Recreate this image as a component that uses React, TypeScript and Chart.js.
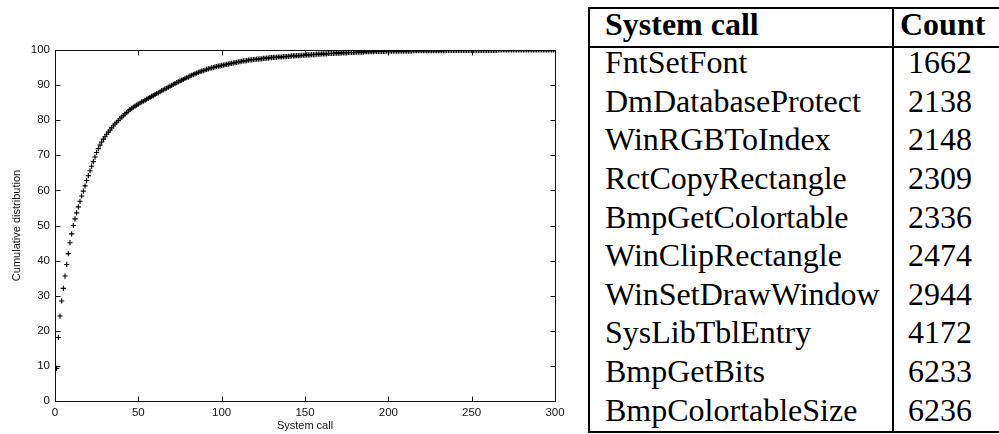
import { useEffect, useRef } from "react";
import { Chart, registerables } from "chart.js";

Chart.register(...registerables);

// Cumulative distribution (%) for system calls ranked 1..300
const cumulative: number[] = [
  9.3, 18.1, 24.2, 28.5, 32.1, 35.6, 38.9, 42.0, 45.1, 47.6,
  50.0, 51.9, 53.6, 55.3, 56.9, 58.4, 59.8, 61.3, 62.8, 64.2,
  65.6, 66.9, 68.2, 69.5, 70.8, 71.9, 72.9, 73.8, 74.6, 75.3,
  76.0, 76.6, 77.2, 77.8, 78.4, 78.9, 79.4, 79.9, 80.4, 80.9,
  81.3, 81.8, 82.2, 82.6, 83.0, 83.4, 83.7, 84.0, 84.3, 84.6,
  84.9, 85.2, 85.4, 85.7, 86.0, 86.2, 86.5, 86.8, 87.0, 87.3,
  87.6, 87.8, 88.1, 88.4, 88.6, 88.9, 89.1, 89.4, 89.7, 89.9,
  90.2, 90.4, 90.7, 90.9, 91.2, 91.4, 91.6, 91.9, 92.1, 92.3,
  92.6, 92.8, 93.0, 93.2, 93.4, 93.6, 93.8, 94.0, 94.1, 94.3,
  94.5, 94.6, 94.8, 94.9, 95.0, 95.2, 95.3, 95.4, 95.5, 95.6,
  95.7, 95.8, 95.9, 96.0, 96.1, 96.2, 96.3, 96.4, 96.5, 96.6,
  96.7, 96.8, 96.9, 96.9, 97.0, 97.1, 97.2, 97.2, 97.3, 97.3,
  97.4, 97.4, 97.5, 97.5, 97.6, 97.6, 97.7, 97.7, 97.8, 97.8,
  97.9, 97.9, 97.9, 98.0, 98.0, 98.0, 98.1, 98.1, 98.1, 98.2,
  98.2, 98.3, 98.3, 98.3, 98.4, 98.4, 98.4, 98.5, 98.5, 98.5,
  98.6, 98.6, 98.6, 98.7, 98.7, 98.7, 98.8, 98.8, 98.8, 98.9,
  98.9, 98.9, 98.9, 99.0, 99.0, 99.0, 99.0, 99.1, 99.1, 99.1,
  99.1, 99.2, 99.2, 99.2, 99.2, 99.3, 99.3, 99.3, 99.3, 99.3,
  99.4, 99.4, 99.4, 99.4, 99.4, 99.5, 99.5, 99.5, 99.5, 99.5,
  99.5, 99.6, 99.6, 99.6, 99.6, 99.6, 99.6, 99.6, 99.7, 99.7,
  99.7, 99.7, 99.7, 99.7, 99.7, 99.7, 99.7, 99.7, 99.7, 99.7,
  99.7, 99.7, 99.7, 99.7, 99.8, 99.8, 99.8, 99.8, 99.8, 99.8,
  99.8, 99.8, 99.8, 99.8, 99.8, 99.8, 99.8, 99.8, 99.8, 99.8,
  99.8, 99.8, 99.8, 99.8, 99.9, 99.9, 99.9, 99.9, 99.9, 99.9,
  99.9, 99.9, 99.9, 99.9, 99.9, 99.9, 99.9, 99.9, 99.9, 99.9,
  99.9, 99.9, 99.9, 99.9, 99.9, 99.9, 99.9, 99.9, 99.9, 99.9,
  99.9, 99.9, 99.9, 99.9, 99.9, 100, 100, 100, 100, 100,
  100, 100, 100, 100, 100, 100, 100, 100, 100, 100,
  100, 100, 100, 100, 100, 100, 100, 100, 100, 100,
  100, 100, 100, 100, 100, 100, 100, 100, 100, 100,
];

const xTitle = "System call";
const yTitle = "Cumulative distribution";

const tableHeaders = ["System call", "Count"];
const systemCalls = [
  "FntSetFont",
  "DmDatabaseProtect",
  "WinRGBToIndex",
  "RctCopyRectangle",
  "BmpGetColortable",
  "WinClipRectangle",
  "WinSetDrawWindow",
  "SysLibTblEntry",
  "BmpGetBits",
  "BmpColortableSize",
];
const callCounts = [1662, 2138, 2148, 2309, 2336, 2474, 2944, 4172, 6233, 6236];

const frameTicks = {
  id: "frameTicks",
  beforeDatasetsDraw(chart: any) {
    const { ctx, chartArea: a, scales } = chart;
    const L = Math.round(a.left) + 0.5;
    const R = Math.round(a.right) + 0.5;
    const T = Math.round(a.top) + 0.5;
    const B = Math.round(a.bottom) + 0.5;
    const len = 5;
    ctx.save();
    ctx.strokeStyle = "#111";
    ctx.lineWidth = 1;
    ctx.beginPath();
    ctx.rect(L, T, R - L, B - T);
    scales.x.ticks.forEach((t: any) => {
      const px = Math.round(scales.x.getPixelForValue(t.value)) + 0.5;
      ctx.moveTo(px, B);
      ctx.lineTo(px, B - len);
      ctx.moveTo(px, T);
      ctx.lineTo(px, T + len);
    });
    scales.y.ticks.forEach((t: any) => {
      const py = Math.round(scales.y.getPixelForValue(t.value)) + 0.5;
      ctx.moveTo(L, py);
      ctx.lineTo(L + len, py);
      ctx.moveTo(R, py);
      ctx.lineTo(R - len, py);
    });
    ctx.stroke();
    ctx.restore();
  },
};

function CdfChart() {
  const ref = useRef<HTMLCanvasElement | null>(null);
  useEffect(() => {
    if (!ref.current) return;
    const family = "'Liberation Sans', Arial, sans-serif";
    const titleFont = { family, size: 11 };
    const tickFont = { family, size: 11.5 };
    const chart = new Chart(ref.current, {
      type: "scatter",
      data: {
        datasets: [
          {
            data: cumulative.map((v, i) => ({ x: i + 1, y: v })),
            pointStyle: "cross",
            pointRadius: 2.6,
            pointBorderWidth: 1.1,
            borderColor: "#000",
            backgroundColor: "#000",
            showLine: false,
          },
        ],
      },
      options: {
        responsive: false,
        animation: false,
        layout: { padding: { top: 50, right: 25, left: 0, bottom: 0 } },
        plugins: { legend: { display: false }, tooltip: { enabled: false } },
        events: [],
        scales: {
          x: {
            type: "linear",
            min: 0,
            max: 300,
            grid: { display: false, drawTicks: false },
            border: { display: false },
            ticks: { stepSize: 50, autoSkip: false, maxRotation: 0, padding: 5, color: "#111", font: tickFont },
            title: { display: true, text: xTitle, color: "#111", font: titleFont, padding: { top: 0, bottom: 1.4 } },
            afterFit: (s: any) => {
              s.height = 33;
            },
          },
          y: {
            type: "linear",
            min: 0,
            max: 100,
            grid: { display: false, drawTicks: false },
            border: { display: false },
            ticks: { stepSize: 10, autoSkip: false, padding: 5, color: "#111", font: tickFont },
            title: { display: true, text: yTitle, color: "#111", font: titleFont, padding: { top: 10.1, bottom: 0 } },
            afterFit: (s: any) => {
              s.width = 55;
            },
          },
        },
      },
      plugins: [frameTicks],
    });
    return () => chart.destroy();
  }, []);
  return (
    <canvas
      ref={ref}
      width={580}
      height={434}
      style={{ position: "absolute", left: 0, top: 0, width: 580, height: 434, display: "block" }}
    />
  );
}

function CountTable() {
  const serif = "'Liberation Serif', 'Times New Roman', serif";
  const lineH = 38;
  const textStyle = (top: number, left: number, bold: boolean): any => ({
    position: "absolute",
    top,
    left,
    height: lineH,
    lineHeight: `${lineH}px`,
    fontFamily: serif,
    fontSize: 32,
    fontWeight: bold ? "bold" : "normal",
    whiteSpace: "nowrap",
    color: "#000",
  });
  return (
    <div
      style={{
        position: "absolute",
        left: 588,
        top: 7,
        width: 440,
        height: 426,
        border: "2px solid #000",
        boxSizing: "border-box",
      }}
    >
      <div style={{ position: "absolute", left: 0, right: 0, top: 37, height: 2, background: "#000" }} />
      <div style={{ position: "absolute", left: 302, width: 2, top: 0, bottom: 0, background: "#000" }} />
      <div style={textStyle(-3.8, 15, true)}>{tableHeaders[0]}</div>
      <div style={textStyle(-3.8, 310, true)}>{tableHeaders[1]}</div>
      {systemCalls.map((name, i) => (
        <div key={name} style={textStyle(34.2 + 38.6 * i, 15, false)}>
          {name}
        </div>
      ))}
      {callCounts.map((c, i) => (
        <div key={i} style={textStyle(34.2 + 38.6 * i, 318, false)}>
          {c}
        </div>
      ))}
    </div>
  );
}

export default function App() {
  return (
    <div
      style={{
        position: "fixed",
        left: 0,
        top: 0,
        width: 999,
        height: 434,
        overflow: "hidden",
        background: "#fff",
      }}
    >
      <CdfChart />
      <CountTable />
    </div>
  );
}
